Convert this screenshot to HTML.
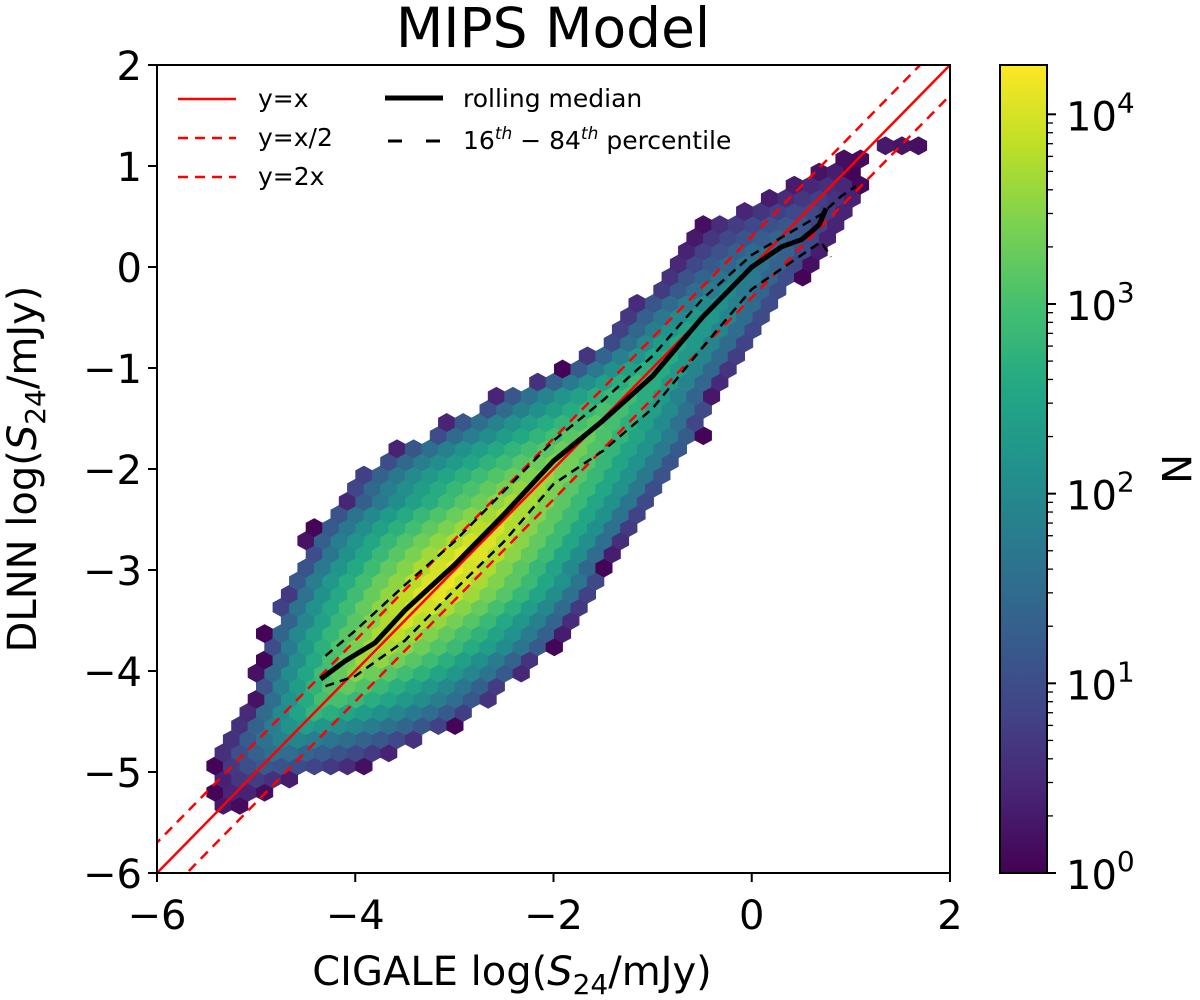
<!DOCTYPE html>
<html><head><meta charset="utf-8"><style>
body{margin:0;background:#fff;overflow:hidden;}
svg text{font-family:"DejaVu Sans","Liberation Sans",sans-serif;}
</style></head><body>
<svg id="chart" width="1200" height="1000" xmlns="http://www.w3.org/2000/svg" style="display:block">
<defs>
<linearGradient id="vir" x1="0" y1="1" x2="0" y2="0">
<stop offset="0" stop-color="#440154"/><stop offset="0.1" stop-color="#482475"/><stop offset="0.2" stop-color="#414487"/><stop offset="0.3" stop-color="#355f8d"/><stop offset="0.4" stop-color="#2a788e"/><stop offset="0.5" stop-color="#21918c"/><stop offset="0.6" stop-color="#22a884"/><stop offset="0.7" stop-color="#44bf70"/><stop offset="0.8" stop-color="#7ad151"/><stop offset="0.9" stop-color="#bddf26"/><stop offset="1" stop-color="#fde725"/>
</linearGradient>
<clipPath id="pc"><rect x="157" y="65" width="793" height="808"/></clipPath>
</defs>
<text x="553" y="47" font-size="55" text-anchor="middle">MIPS Model</text>
<g id="hexes" clip-path="url(#pc)"></g>
<g id="lines" clip-path="url(#pc)"></g>
<rect x="157" y="65" width="793" height="808" fill="none" stroke="#000" stroke-width="2"/>
<g id="axes"></g>
<text x="512" y="985" font-size="40" text-anchor="middle">CIGALE log(<tspan font-style="italic">S</tspan><tspan font-size="28" dy="9">24</tspan><tspan dy="-9">/mJy)</tspan></text>
<text transform="translate(36,469) rotate(-90)" font-size="40" text-anchor="middle">DLNN log(<tspan font-style="italic">S</tspan><tspan font-size="28" dy="9">24</tspan><tspan dy="-9">/mJy)</tspan></text>
<g font-size="25">
<line x1="178" y1="99" x2="236" y2="99" stroke="#f00" stroke-width="2.5"/>
<text x="258" y="107">y=x</text>
<line x1="178" y1="138" x2="236" y2="138" stroke="#f00" stroke-width="2.5" stroke-dasharray="10,7"/>
<text x="258" y="146">y=x/2</text>
<line x1="178" y1="177" x2="236" y2="177" stroke="#f00" stroke-width="2.5" stroke-dasharray="10,7"/>
<text x="258" y="185">y=2x</text>
<line x1="385" y1="98" x2="443" y2="98" stroke="#000" stroke-width="5"/>
<text x="463" y="107">rolling median</text>
<line x1="385" y1="141" x2="443" y2="141" stroke="#000" stroke-width="3" stroke-dasharray="14,24" stroke-dashoffset="-3"/>
<text x="463" y="149">16<tspan font-size="17" dy="-10" font-style="italic">th</tspan><tspan dy="10"> − 84</tspan><tspan font-size="17" dy="-10" font-style="italic">th</tspan><tspan dy="10"> percentile</tspan></text>
</g>
<rect x="1000" y="65" width="47" height="808" fill="url(#vir)" stroke="#000" stroke-width="2"/>
<g id="cbar"></g>
<text transform="translate(1162,469) rotate(90)" font-size="40" text-anchor="middle">N</text>
</svg>
<script>
const rowY=[-5.33,-5.20,-5.07,-4.94,-4.81,-4.68,-4.54,-4.41,-4.28,-4.15,-4.02,-3.89,-3.76,-3.63,-3.50,-3.37,-3.24,-3.11,-2.98,-2.84,-2.71,-2.58,-2.45,-2.32,-2.19,-2.06,-1.93,-1.80,-1.67,-1.54,-1.41,-1.28,-1.14,-1.01,-0.88,-0.75,-0.62,-0.49,-0.36,-0.23,-0.10,0.03,0.16,0.29,0.42,0.55,0.68,0.81,0.94,1.07,1.20];
const rowLo=[-5.35,-5.4,-5.4,-5.4,-5.4,-5.3,-5.2,-5.1,-5.0,-5.0,-5.0,-4.9,-4.9,-4.9,-4.8,-4.8,-4.7,-4.7,-4.6,-4.5,-4.5,-4.4,-4.3,-4.1,-4.1,-4.0,-3.8,-3.6,-3.3,-3.1,-2.8,-2.6,-2.2,-1.9,-1.7,-1.5,-1.4,-1.3,-1.2,-1.0,-0.9,-0.8,-0.7,-0.6,-0.5,-0.2,0.1,0.3,0.6,0.9,1.3];
const rowHi=[-5.15,-4.9,-4.6,-3.9,-3.6,-3.3,-3.0,-2.8,-2.6,-2.5,-2.3,-2.2,-2.0,-1.9,-1.8,-1.7,-1.6,-1.5,-1.5,-1.4,-1.3,-1.2,-1.1,-1.0,-0.9,-0.8,-0.7,-0.6,-0.5,-0.5,-0.4,-0.4,-0.3,-0.2,-0.1,0.0,0.1,0.2,0.3,0.4,0.5,0.6,0.7,0.8,0.9,1.0,1.1,1.1,1.0,1.1,1.8];
const rowPeak=[0.3,0.5,0.8,1.2,1.6,2.0,2.4,2.8,3.1,3.3,3.5,3.7,3.8,3.9,4.0,4.1,4.2,4.2,4.2,4.2,4.1,4.0,3.9,3.8,3.7,3.6,3.5,3.4,3.3,3.2,3.1,3.0,2.9,2.8,2.7,2.6,2.5,2.4,2.2,2.0,1.9,1.7,1.6,1.4,1.2,1.0,0.8,0.6,0.4,0.3,0.3];
const medX=[-4.35,-4.1,-3.8,-3.5,-3.0,-2.5,-2.0,-1.5,-1.0,-0.5,0.0,0.3,0.5,0.6,0.68,0.75];
const medY=[-4.08,-3.9,-3.72,-3.4,-2.95,-2.45,-1.92,-1.52,-1.08,-0.5,0.0,0.2,0.27,0.35,0.42,0.58];
const p16X=[-4.3,-4.0,-3.5,-3.0,-2.5,-2.0,-1.5,-1.0,-0.5,0.0,0.4,0.55,0.7,0.8];
const p16Y=[-4.15,-4.05,-3.7,-3.2,-2.72,-2.15,-1.82,-1.4,-0.8,-0.22,0.05,0.15,0.25,0.1];
const p84X=[-4.3,-4.0,-3.5,-3.0,-2.5,-2.0,-1.5,-1.0,-0.5,0.0,0.4,0.7,0.9,1.05];
const p84Y=[-3.85,-3.6,-3.15,-2.72,-2.22,-1.72,-1.32,-0.88,-0.32,0.12,0.35,0.52,0.7,0.8];
const xTicks=[-6,-4,-2,0,2];
const yTicks=[-6,-5,-4,-3,-2,-1,0,1,2];
const cbTicks=[0,1,2,3,4];
const cbMax=4.26;

const NS='http://www.w3.org/2000/svg';
const X=v=>157+(v+6)*793/8;
const Y=v=>873-(v+6)*808/8;
const CB=v=>873-v*808/cbMax;
const stops=["#440154","#482475","#414487","#355f8d","#2a788e","#21918c","#22a884","#44bf70","#7ad151","#bddf26","#fde725"];
function hx(h){return [1,3,5].map(i=>parseInt(h.substr(i,2),16));}
function vir(t){t=Math.max(0,Math.min(1,t));const f=t*10,i=Math.min(9,Math.floor(f)),r=f-i;const a=hx(stops[i]),b=hx(stops[i+1]);return 'rgb('+a.map((c,k)=>Math.round(c+(b[k]-c)*r)).join(',')+')';}
function mk(tag,attrs,parent){const e=document.createElementNS(NS,tag);for(const k in attrs)e.setAttribute(k,attrs[k]);parent.appendChild(e);return e;}

const hg=document.getElementById('hexes');
const dx=0.167,R=9.1,W=X(dx)-X(0);
for(let k=0;k<rowY.length;k++){
  const y=rowY[k],lo=rowLo[k],hi=rowHi[k],pk=rowPeak[k];
  const c=Math.max(lo,Math.min(hi,y));
  const off=(k%2)*dx/2;
  for(let j=-40;j<60;j++){
    const x=-6+j*dx+off;
    if(x<lo-0.02||x>hi+0.02)continue;
    const t=x<c?(x-lo)/Math.max(0.01,c-lo):(hi-x)/Math.max(0.01,hi-c);
    const v=0.05+(pk-0.05)*Math.pow(Math.max(0,Math.min(1,t)),0.5);
    const cx=X(x),cy=Y(y);
    const pts=[[0,-R],[W/2,-R/2],[W/2,R/2],[0,R],[-W/2,R/2],[-W/2,-R/2]].map(p=>(cx+p[0]).toFixed(1)+','+(cy+p[1]).toFixed(1)).join(' ');
    const h=mk('polygon',{points:pts,fill:vir(v/cbMax),stroke:vir(v/cbMax),'stroke-width':0.6},hg);
    
    
  }
}
const lg=document.getElementById('lines');
[[0,'none','y-equals-x'],[-Math.log10(2),'10,7','y-equals-x-half'],[Math.log10(2),'10,7','y-equals-2x']].forEach(d=>{
  const l=mk('line',{x1:X(-7),y1:Y(-7+d[0]),x2:X(3),y2:Y(3+d[0]),stroke:'#f00','stroke-width':2.5,'stroke-dasharray':d[1]},lg);
  
  
});
function path(xs,ys,w,dash,name){
  const p=mk('path',{d:xs.map((x,i)=>(i?'L':'M')+X(x).toFixed(1)+','+Y(ys[i]).toFixed(1)).join(''),fill:'none',stroke:'#000','stroke-width':w,'stroke-dasharray':dash,'stroke-linejoin':'round'},lg);
  
  
}
path(p16X,p16Y,2.5,'9,6','percentile-16-line');
path(p84X,p84Y,2.5,'9,6','percentile-84-line');
path(medX,medY,5,'none','rolling-median-line');

const ax=document.getElementById('axes');
xTicks.forEach(v=>{
  const l=mk('line',{x1:X(v),y1:873,x2:X(v),y2:882,stroke:'#000','stroke-width':2},ax);
  
  
  const t=mk('text',{x:X(v),y:929,'font-size':40,'text-anchor':'middle'},ax);
  t.textContent=(v<0?'−':'')+Math.abs(v);
  
  
});
yTicks.forEach(v=>{
  const l=mk('line',{x1:148,y1:Y(v),x2:157,y2:Y(v),stroke:'#000','stroke-width':2},ax);
  
  
  const t=mk('text',{x:142,y:Y(v)+15,'font-size':40,'text-anchor':'end'},ax);
  t.textContent=(v<0?'−':'')+Math.abs(v);
  
  
});
const cb=document.getElementById('cbar');
cbTicks.forEach(v=>{
  const l=mk('line',{x1:1047,y1:CB(v),x2:1056,y2:CB(v),stroke:'#000','stroke-width':2},cb);
  
  
  const t=mk('text',{x:1066,y:CB(v)+16,'font-size':40},cb);
  t.innerHTML='10<tspan font-size="28" dy="-18">'+v+'</tspan>';
  
  
  if(v<4){for(let m=2;m<10;m++){const y=CB(v+Math.log10(m));if(y<65)break;
    const ml=mk('line',{x1:1047,y1:y,x2:1053,y2:y,stroke:'#000','stroke-width':1.3},cb);
    
    }}
});
{const y=CB(4+Math.log10(2));if(y>=65){const ml=mk('line',{x1:1047,y1:y,x2:1053,y2:y,stroke:'#000','stroke-width':1.3},cb);

}}
</script>
</body></html>
